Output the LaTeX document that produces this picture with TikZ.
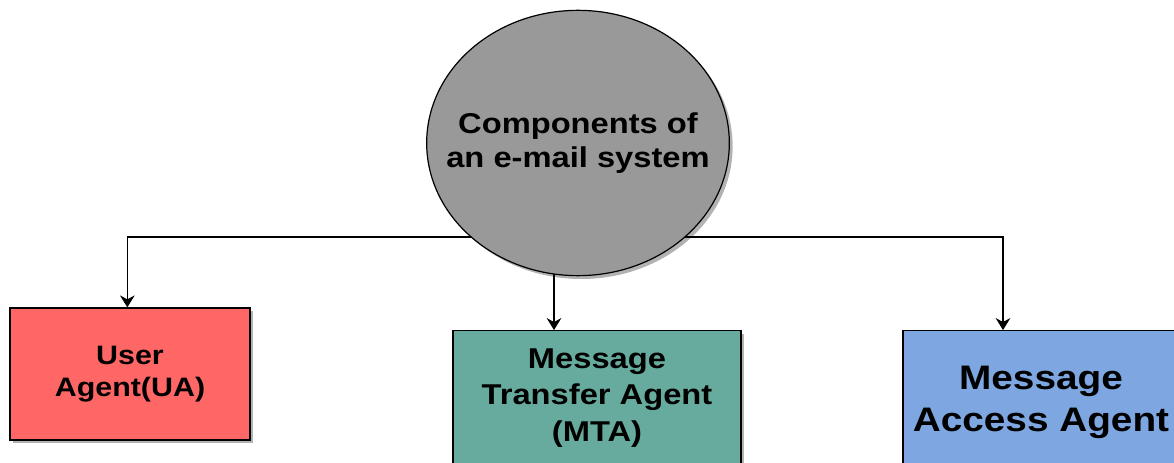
\documentclass[tikz,border=0pt]{standalone}
\usepackage{fontspec}
\setmainfont[FakeStretch=1.14]{Liberation Sans}
\definecolor{mailGray}{HTML}{999999}
\definecolor{mailRed}{HTML}{FF6666}
\definecolor{mailTeal}{HTML}{67AB9F}
\definecolor{mailBlue}{HTML}{7EA6E0}
\usetikzlibrary{arrows.meta,shapes.geometric,shadows,backgrounds}

\begin{document}
\begin{tikzpicture}[x=0.75pt, y=-0.75pt,
  softshadow/.style={drop shadow={shadow xshift=2.5pt, shadow yshift=-2.5pt,
    fill=black, opacity=0.3}},
  hub/.style={ellipse, draw=black, line width=0.9pt, fill=mailGray,
    minimum width=227pt, minimum height=199pt, inner sep=0pt, softshadow},
  hubtext/.style={align=center, font=\bfseries\fontsize{21.5}{25}\selectfont},
  agent/.style={draw=black, line width=0.9pt, align=center, inner sep=0pt,
    softshadow},
  arr/.style={-{Stealth[length=9pt, width=11pt, inset=3pt]}, line width=0.9pt}
]
  \useasboundingbox (0,0) rectangle (1174,463);

  \node[hub, label={[hubtext]center:Components of\\an e-mail system}] (hub)
    at (578,143) {};

  \node[agent, fill=mailRed, minimum width=180pt, minimum height=99pt,
    font=\bfseries\fontsize{20}{24}\selectfont] (ua) at (130,374)
    {User\\Agent(UA)};
  \node[agent, fill=mailTeal, minimum width=216pt, minimum height=101pt,
    font=\bfseries\fontsize{21.5}{27.5}\selectfont] (mta) at (597,398)
    {Message\\Transfer Agent\\(MTA)};
  \node[agent, fill=mailBlue, minimum width=207pt, minimum height=107pt,
    font=\bfseries\fontsize{25.5}{31.5}\selectfont] (maa) at (1041,402)
    {Message\\Access Agent};

  \coordinate (bus) at (0,237);

  \begin{scope}[on background layer]
    \draw[arr] (hub |- bus) -| ([xshift=-2pt]ua.north);
    \draw[arr] ([xshift=-18pt]hub.center) -- ([xshift=-18pt]hub.center |- mta.north);
    \draw[arr] (hub |- bus) -| ([xshift=-28.5pt]maa.north);
  \end{scope}
\end{tikzpicture}
\end{document}
